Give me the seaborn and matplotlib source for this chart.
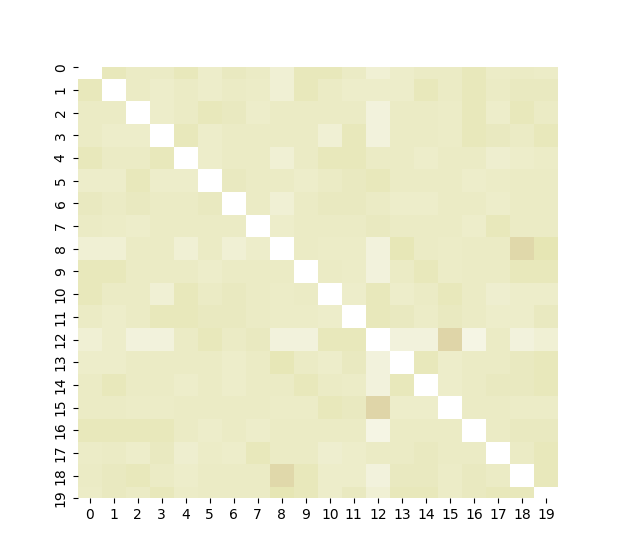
import numpy as np
import matplotlib
matplotlib.use("Agg")
import matplotlib.pyplot as plt
import seaborn as sns
from matplotlib.colors import LinearSegmentedColormap

# upper triangle of a symmetric 20x20 matrix, row i holds columns i+1..19
upper = [
    [5, 4, 4, 5, 3, 4.5, 4, 2, 5, 5, 4, 2, 3, 4, 4, 5, 3.5, 4, 3.5],
    [4, 3, 4, 3, 4, 3.5, 2, 5, 4, 3, 3, 3, 5, 4, 5, 4, 4.5, 4.5],
    [3, 4, 5, 4.5, 3, 4, 4, 4, 4, 1.5, 4, 4, 3.5, 5, 3, 5, 4],
    [5, 3, 4, 4, 4, 4, 2, 5, 1.5, 4, 4, 3.5, 5, 4.5, 4, 5],
    [3, 4, 4, 2, 4, 5, 5, 4, 4, 3, 4, 4, 2.5, 3, 3.5],
    [4.5, 4, 4, 3, 4, 4.5, 5, 4, 4, 4, 3, 3.5, 4, 4],
    [4, 2, 4, 4.5, 4.5, 4, 3, 3, 4, 4, 3, 4, 4],
    [3, 4, 4, 4, 4.5, 4, 4, 4, 3, 5, 4, 4],
    [4, 3.5, 3.5, 1.5, 5.5, 4, 3.5, 4, 4, 8.5, 6],
    [4, 3.5, 1.5, 4, 5, 3.5, 4, 4, 5, 5],
    [3, 5, 3, 4, 5, 4, 2.5, 3, 3],
    [5, 4.5, 3.5, 4.5, 4, 3, 3, 4.5],
    [1.5, 1.5, 9, 1, 4, 1.5, 2],
    [5, 3, 4, 4, 4.5, 5],
    [3, 4, 4.5, 4.5, 5],
    [4, 4, 3.5, 3.5],
    [4, 4.5, 4.5],
    [4, 5],
    [5],
    [],
]
labels = list(range(20))

n = len(labels)
mat = np.full((n, n), np.nan)
for i, row in enumerate(upper):
    for k, v in enumerate(row):
        j = i + 1 + k
        mat[i, j] = v
        mat[j, i] = v

cmap = LinearSegmentedColormap.from_list(
    "pale",
    [(0.0, "#f5f5e4"), (0.125, "#f0f0d4"), (0.25, "#ededca"), (0.375, "#ebebc5"),
     (0.5, "#e8e8bb"), (0.625, "#e6e6b4"), (1.0, "#dfd5a8")],
)

fig, ax = plt.subplots(figsize=(6.2, 5.6), dpi=100)
sns.heatmap(mat, mask=np.isnan(mat), cmap=cmap, vmin=1, vmax=9, cbar=False,
            xticklabels=labels, yticklabels=labels, ax=ax)
# top and bottom rows come out half-cut in the original
ax.set_ylim(n - 0.5, 0.5)
plt.setp(ax.get_yticklabels(), rotation=90, va="center")
plt.setp(ax.get_xticklabels(), rotation=0)

fig.savefig("out.png", dpi=100)
